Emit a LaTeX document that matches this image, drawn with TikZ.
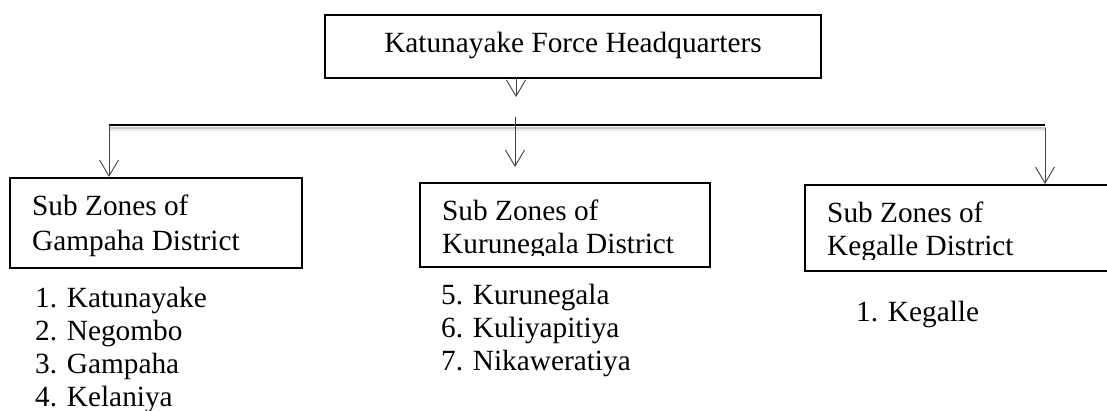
\documentclass[tikz,border=0pt]{standalone}
\usepackage{fontspec}
\setmainfont{Liberation Serif}
\usetikzlibrary{arrows.meta}
\begin{document}
\begin{tikzpicture}[x=1pt,y=-1pt,
  box/.style={draw=black,line width=2.2pt,inner sep=0pt},
  txt/.style={anchor=base west,inner sep=0pt,font=\fontsize{29.3}{33}\selectfont},
  arr/.style={draw=black!75,line width=0.9pt,-{Straight Barb[length=16pt,width=19pt,line width=0.9pt]}},
  bar/.style={line width=2.2pt},
  shadowA/.style={line width=2pt,draw=black!22},
  shadowB/.style={line width=2pt,draw=black!9}]
\useasboundingbox (0,0) rectangle (1107,410);
% headquarters
\node[box,minimum width=496pt,minimum height=63pt] (hq) at (573,46.5) {};
\node[txt,anchor=base] (hqt) at (573,52) {Katunayake Force Headquarters};
% boxes
\node[box,minimum width=292pt,minimum height=90pt] (gam) at (156,223) {};
\node[box,minimum width=290pt,minimum height=84pt] (kur) at (565,225) {};
\node[box,minimum width=315pt,minimum height=86pt] (keg) at (962.5,228) {};
% bar
\coordinate (barL) at (109,125);
\coordinate (barR) at (1045,125);
\draw[shadowB] (110,129.5) -- (1046,129.5);
\draw[shadowA] (110,127.5) -- (1046,127.5);
\draw[bar] (barL) -- (barR);
% arrows
\coordinate (hqo) at (516,78);
\coordinate (hqi) at (516,97);
\draw[arr] (hqo) -- (hqi);
\coordinate (mo) at (515,117);
\coordinate (mi) at (515,167);
\draw[arr] (mo) -- (mi);
\draw[arr] (barL) -- (barL |- gam.north);
\coordinate (ro) at (1045,128);
\draw[arr] (ro) -- (ro |- keg.north);
% box texts
\node[txt] (g1) at (32,215) {Sub Zones of};
\node[txt] (g2) at (32,250) {Gampaha District};
\begin{scope}
\clip (420,183) rectangle (710,255.5);
\node[txt] (k1) at (442,220.5) {Sub Zones of};
\node[txt] (k2) at (442,253) {Kurunegala District};
\end{scope}
\begin{scope}
\clip (805,185) rectangle (1107,259);
\node[txt] (e1) at (827,222) {Sub Zones of};
\node[txt] (e2) at (827,255) {Kegalle District};
\end{scope}
% lists
\node[txt] (gl1) at (35,307) {1. Katunayake};
\node[txt] (gl2) at (35,340) {2. Negombo};
\node[txt] (gl3) at (35,373) {3. Gampaha};
\node[txt] (gl4) at (35,406) {4. Kelaniya};
\node[txt] (kl1) at (441,304) {5. Kurunegala};
\node[txt] (kl2) at (441,337) {6. Kuliyapitiya};
\node[txt] (kl3) at (441,370.5) {7. Nikaweratiya};
\node[txt] (el1) at (856,321) {1. Kegalle};
\end{tikzpicture}
\end{document}
